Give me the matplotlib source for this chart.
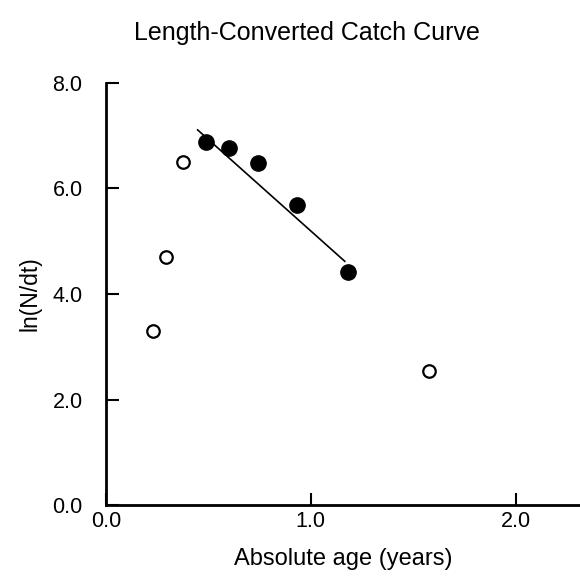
import numpy as np
import matplotlib.pyplot as plt

plt.rcParams['font.family'] = 'Liberation Sans'

# points used in the regression (filled) and excluded points (open)
age_used = [0.487, 0.600, 0.741, 0.930, 1.180]
lnN_used = [6.89, 6.77, 6.49, 5.68, 4.41]
age_excl = [0.227, 0.291, 0.374, 1.577]
lnN_excl = [3.30, 4.70, 6.51, 2.55]
# ends of the fitted line
fit_age = [0.447, 1.166]
fit_lnN = [7.11, 4.62]

xticks = [0.0, 1.0, 2.0]
yticks = [0.0, 2.0, 4.0, 6.0, 8.0]

fig = plt.figure(figsize=(5.8, 5.76), dpi=100)
ax = fig.add_axes([0.183, 0.123, 0.817, 0.733])

ax.plot(fit_age, fit_lnN, color='black', lw=1.2)
ax.plot(age_used, lnN_used, 'o', color='black', ms=11, zorder=3)
ax.plot(age_excl, lnN_excl, 'o', mfc='white', mec='black', mew=1.6, ms=9, zorder=3)

ax.set_xlim(0, 2.315)
ax.set_ylim(0, 8)
ax.set_xticks(xticks)
ax.set_yticks(yticks)
ax.set_xticklabels(['{:.1f}'.format(v) for v in xticks])
ax.set_yticklabels(['{:.1f}'.format(v) for v in yticks])
ax.tick_params(direction='in', length=9, width=1.5, labelsize=15.5)
ax.tick_params(axis='y', pad=17)
ax.tick_params(axis='x', pad=4)

for s in ['top', 'right']:
    ax.spines[s].set_visible(False)
for s in ['left', 'bottom']:
    ax.spines[s].set_linewidth(2)

ax.set_xlabel('Absolute age (years)', fontsize=17, labelpad=12)
ax.set_ylabel('ln(N/dt)', fontsize=16.5, labelpad=8)
fig.text(0.53, 0.943, 'Length-Converted Catch Curve', fontsize=18, ha='center', va='center')

fig.savefig('out.png', dpi=100)
